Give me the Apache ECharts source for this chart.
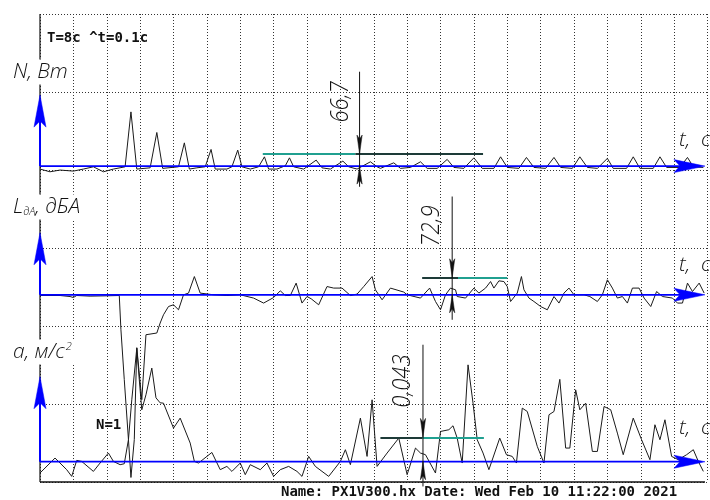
<!DOCTYPE html>
<html>
<head>
<meta charset="UTF-8">
<title>Осциллограмма</title>
<script src="https://cdn.jsdelivr.net/npm/echarts@6/dist/echarts.min.js"></script>
<style type="text/css">
body{margin:0;padding:0;background:#fff;}
#main{width:710px;height:500px;}
</style>
</head>
<body>
<div id="main"></div>
<script type="text/javascript">
// время t, с (T = 8 с), значения в единицах "деление/10" от своей нулевой линии
var sigN = [[0,-0.38],[0.12,-0.73],[0.24,-0.51],[0.40,-0.64],[0.52,-0.38],[0.64,-0.09],[0.76,-0.73],[0.88,-0.38],[1.02,-0.09],[1.09,6.95],
  [1.16,-0.38],[1.32,-0.22],[1.40,4.31],[1.47,-0.29],[1.66,-0.09],[1.73,2.98],[1.79,-0.38],[1.88,-0.22],[1.98,-0.09],[2.05,2.14],
  [2.10,-0.38],[2.24,-0.38],[2.30,-0.09],[2.37,2.05],[2.42,-0.09],[2.52,-0.38],[2.62,-0.09],[2.69,1.19],[2.74,-0.38],[2.84,-0.38],
  [2.94,0.04],[2.99,1.06],[3.04,-0.09],[3.16,-0.38],[3.31,0.77],[3.38,-0.22],[3.48,-0.38],[3.63,0.64],[3.70,-0.09],[3.80,-0.38],
  [3.96,0.55],[4.04,-0.09],[4.08,-0.29],[4.24,0.42],[4.32,-0.29],[4.44,-0.17],[4.56,0.55],[4.64,-0.29],[4.76,-0.29],[4.88,0.86],
  [4.96,-0.17],[5.08,-0.29],[5.20,1.06],[5.30,-0.29],[5.44,-0.29],[5.52,1.19],[5.60,-0.17],[5.74,-0.29],[5.83,1.11],[5.92,-0.17],
  [6.06,-0.29],[6.16,1.11],[6.24,-0.17],[6.38,-0.29],[6.47,1.19],[6.56,-0.17],[6.68,-0.29],[6.80,0.99],[6.87,-0.29],[7.03,-0.29],
  [7.11,1.19],[7.19,-0.29],[7.35,-0.29],[7.43,1.19],[7.51,-0.17],[7.67,-0.17],[7.76,1.11],[7.83,-0.09],[7.95,-0.17]];

var sigL = [[0,-0.09],[0.24,-0.09],[0.36,-0.22],[0.40,-0.35],[0.44,-0.09],[0.60,-0.17],[0.80,-0.13],[0.95,-0.09],[0.97,-4.48],[1.01,-10.88],
  [1.06,-18.56],[1.09,-23.42],[1.13,-18.56],[1.16,-6.78],[1.22,-13.44],[1.27,-5.12],[1.40,-4.90],[1.44,-3.62],[1.48,-2.56],[1.54,-1.50],
  [1.60,-1.28],[1.66,-1.92],[1.72,0],[1.78,0.22],[1.85,2.34],[1.92,0.22],[2.08,0],[2.24,-0.09],[2.40,0],[2.56,-0.42],
  [2.68,-1.06],[2.80,-0.35],[2.88,0.51],[2.94,-0.09],[3.00,-0.09],[3.07,1.50],[3.14,-1.06],[3.20,-0.22],[3.25,-0.51],[3.34,-1.28],
  [3.44,1.06],[3.52,0.86],[3.62,0.86],[3.72,-0.09],[3.80,0.09],[3.88,1.06],[3.98,2.34],[4.02,0.64],[4.10,-0.64],[4.20,0.86],
  [4.36,0.35],[4.40,0],[4.56,-0.42],[4.67,0.86],[4.74,-0.86],[4.80,-1.92],[4.86,0],[4.92,0.86],[4.98,0.64],[5.00,-0.22],
  [5.10,-0.42],[5.20,0.86],[5.26,0.22],[5.34,0.86],[5.40,1.70],[5.44,0.86],[5.50,1.79],[5.56,1.70],[5.60,1.06],[5.64,-0.86],
  [5.72,0.22],[5.77,2.34],[5.80,0.64],[5.86,-0.42],[5.92,-0.86],[6.00,-1.50],[6.08,-1.92],[6.16,-0.22],[6.22,-1.06],[6.28,0.22],
  [6.34,0.86],[6.40,0],[6.52,0],[6.59,-0.22],[6.68,-0.86],[6.74,0],[6.80,1.92],[6.86,0.86],[6.92,-0.42],[6.98,-0.22],
  [7.04,-1.06],[7.10,0.86],[7.18,0.86],[7.24,-0.42],[7.32,-1.50],[7.39,0.42],[7.46,-0.22],[7.58,-0.42],[7.64,-1.06],[7.70,-1.06],
  [7.76,1.50],[7.82,0.42],[7.90,1.50],[7.96,0.22]];

var sigA = [[0,-1.45],[0.18,0.47],[0.32,-1.02],[0.38,-1.88],[0.44,0.17],[0.50,0.04],[0.64,-1.24],[0.72,-0.17],[0.82,1.11],[0.88,0.04],
  [0.96,-0.38],[1.01,-0.26],[1.06,2.82],[1.10,7.94],[1.16,14.55],[1.19,10.5],[1.22,6.66],[1.27,8.58],[1.34,12.0],[1.39,8.19],
  [1.44,7.55],[1.48,7.51],[1.60,4.31],[1.68,5.59],[1.80,2.39],[1.85,0.04],[1.90,-0.17],[2.06,1.19],[2.16,-1.02],[2.24,-0.60],
  [2.30,-1.24],[2.40,-0.17],[2.46,-1.66],[2.52,-0.38],[2.64,-1.02],[2.72,-0.17],[2.80,-1.88],[2.88,-1.02],[2.98,-0.60],[3.08,-1.24],
  [3.14,-1.88],[3.22,0.68],[3.30,-0.60],[3.46,-1.88],[3.60,0.04],[3.66,1.54],[3.72,-0.38],[3.84,5.59],[3.92,0.68],[3.98,7.94],
  [4.04,-0.60],[4.16,1.11],[4.30,3.03],[4.40,-1.66],[4.50,1.75],[4.56,1.11],[4.62,0.90],[4.74,-1.45],[4.80,3.88],[4.90,4.10],
  [4.95,4.61],[5.00,3.03],[5.06,-0.17],[5.13,12.42],[5.19,7.51],[5.24,2.82],[5.31,1.11],[5.38,-1.02],[5.51,3.03],[5.59,0.90],
  [5.66,0.68],[5.71,-0.17],[5.78,6.87],[5.84,6.44],[5.96,1.96],[6.04,-0.17],[6.10,6.02],[6.16,6.44],[6.23,10.56],[6.30,1.75],
  [6.35,1.75],[6.42,9.22],[6.47,6.66],[6.54,7.51],[6.62,1.32],[6.68,1.32],[6.76,7.08],[6.84,6.66],[6.92,3.67],[6.99,0.90],
  [7.11,5.59],[7.21,2.82],[7.31,0.26],[7.37,4.74],[7.43,2.82],[7.49,5.38],[7.57,0.68],[7.65,0.26],[7.75,0.90],[7.83,1.54],
  [7.89,0.04],[7.95,-1.24]];

// средние уровни и подписи размеров
var meanLevel = [1.54, 2.18, 3.12];
var meanText = ['66,7', '72,9', '0,043'];
var meanFrom = [2.67, 4.58, 4.08];
var meanSplit = [3.78, 5.01, 4.58];
var meanTo = [5.31, 5.60, 5.32];
var markT = [3.83, 4.94, 4.59];

// нижние границы осей (делений/10), чтобы нули каналов легли на свои места
var axisMin = [-40.5, -24, -2.6];

var chart = echarts.init(document.getElementById('main'));

var traceStyle = {color: '#1a1a1a', width: 1};
function trace(data, k, leftTeal) {
  var teal = '#20a090', dark = '#1d3b38';
  return {
    type: 'line', data: data, yAxisIndex: k + 1, showSymbol: false, symbol: 'none',
    lineStyle: traceStyle, itemStyle: {color: '#1a1a1a'}, animation: false, z: 3,
    markLine: {
      silent: true, symbol: 'none', animation: false, label: {show: false},
      data: [
        [{coord: [meanFrom[k], meanLevel[k]], lineStyle: {color: leftTeal ? teal : dark, width: 2, type: 'solid'}},
         {coord: [meanSplit[k], meanLevel[k]]}],
        [{coord: [meanSplit[k], meanLevel[k]], lineStyle: {color: leftTeal ? dark : teal, width: 2, type: 'solid'}},
         {coord: [meanTo[k], meanLevel[k]]}]
      ]
    }
  };
}

var gridLine = {show: true, lineStyle: {color: '#333', width: 1, type: [1, 2]}};
var hiddenY = function (mn) {
  return {type: 'value', min: mn, max: mn + 60, show: false, splitLine: {show: false}};
};

chart.setOption({
  animation: false,
  grid: {left: 40, top: 14, width: 667.5, height: 468},
  xAxis: {type: 'value', min: 0, max: 8, interval: 0.4,
    axisLine: {show: false}, axisTick: {show: false}, axisLabel: {show: false}, splitLine: gridLine},
  yAxis: [
    {type: 'value', min: 0, max: 6, interval: 1,
      axisLine: {show: false}, axisTick: {show: false}, axisLabel: {show: false}, splitLine: gridLine},
    hiddenY(axisMin[0]), hiddenY(axisMin[1]), hiddenY(axisMin[2])
  ],
  series: [trace(sigN, 0, true), trace(sigL, 1, false), trace(sigA, 2, false)]
});

// оформление: рамка, синие оси со стрелками, размерные стрелки, надписи
var axisTip = [9.1, 7.95, 10.9];
var dimTop = [12.1, 12.6, 15.0];
var dimBot = [-2.65, -3.2, -3.17];
var blue = '#0000ff';
var els = [];
function seg(x1, y1, x2, y2, c, w) {
  els.push({type: 'line', z: 50, silent: true, shape: {x1: x1, y1: y1, x2: x2, y2: y2}, style: {stroke: c, lineWidth: w}});
}
function tri(pts, c) {
  els.push({type: 'polygon', z: 51, silent: true, shape: {points: pts}, style: {fill: c, stroke: c, lineWidth: 0.5}});
}
function label(x, y, opt) {
  var st = {text: opt.text, fill: opt.color || '#111', font: opt.font, align: opt.align || 'left', verticalAlign: 'middle'};
  if (opt.rich) st.rich = opt.rich;
  if (opt.bg) { st.backgroundColor = '#fff'; st.padding = [2, 3]; }
  els.push({type: 'text', z: 60, silent: true, x: x, y: y, rotation: opt.rotation || 0,
    scaleX: opt.sx || 1, scaleY: opt.sy || 1, style: st});
}

var xL = chart.convertToPixel({xAxisIndex: 0}, 0);
var xEnd = chart.convertToPixel({xAxisIndex: 0}, 7.97);
var yT = chart.convertToPixel({yAxisIndex: 0}, 6);
var yB = chart.convertToPixel({yAxisIndex: 0}, 0);
seg(xL, yT, xL, yB, '#111', 1.2);
seg(xL, yB, xEnd, yB, '#111', 1.5);

for (var k = 0; k < 3; k++) {
  var base = chart.convertToPixel({seriesIndex: k}, [0, 0]);
  var yb = base[1];
  var tip = chart.convertToPixel({seriesIndex: k}, [0, axisTip[k]])[1];
  // горизонтальная ось t
  seg(xL, yb, xEnd - 20, yb, blue, 1.8);
  tri([[xEnd, yb], [xEnd - 31, yb - 6.5], [xEnd - 25, yb], [xEnd - 31, yb + 6.5]], blue);
  // вертикальная ось канала
  seg(xL, yb, xL, tip + 22, blue, 2);
  tri([[xL, tip], [xL - 6, tip + 32], [xL, tip + 26], [xL + 6, tip + 32]], blue);
  // размерная стрелка к среднему уровню
  var xm = chart.convertToPixel({seriesIndex: k}, [markT[k], 0])[0];
  var yTop = chart.convertToPixel({seriesIndex: k}, [markT[k], dimTop[k]])[1];
  var yBot = chart.convertToPixel({seriesIndex: k}, [markT[k], dimBot[k]])[1];
  var ym = chart.convertToPixel({seriesIndex: k}, [markT[k], meanLevel[k]])[1];
  seg(xm, yTop, xm, yBot, '#111', 1);
  tri([[xm, ym], [xm - 2.6, ym - 19], [xm, ym - 15], [xm + 2.6, ym - 19]], '#111');
  tri([[xm, yb], [xm - 2.6, yb + 18], [xm, yb + 14], [xm + 2.6, yb + 18]], '#111');
}

var gost = '"Open Sans","Noto Sans",sans-serif';
var axFont = 'italic 300 21px ' + gost;
var numPos = [[341, 102], [432, 226], [403, 381]];
for (var i = 0; i < 3; i++) {
  label(numPos[i][0], numPos[i][1], {text: meanText[i], font: 'italic 300 26px ' + gost,
    align: 'center', rotation: Math.PI / 2, sx: 0.85});
}
label(10, 72, {text: 'N, Вт', font: axFont, bg: true});
label(10, 207, {text: '{a|L}{s|дА}{a|, дБА}', font: axFont, bg: true, rich: {
  a: {fontSize: 21, fontStyle: 'italic', fontWeight: 300, fontFamily: gost, fill: '#111'},
  s: {fontSize: 11, fontStyle: 'italic', fontWeight: 300, fontFamily: gost, fill: '#111', verticalAlign: 'bottom', padding: [8, 0, 0, 0]}
}});
label(10, 352, {text: '{a|a, м/с}{s|2}', font: axFont, bg: true, rich: {
  a: {fontSize: 21, fontStyle: 'italic', fontWeight: 300, fontFamily: gost, fill: '#111'},
  s: {fontSize: 11, fontStyle: 'italic', fontWeight: 300, fontFamily: gost, fill: '#111', verticalAlign: 'top', padding: [0, 0, 10, 1]}
}});
var tY = [140, 265, 428];
for (var j = 0; j < 3; j++) label(679, tY[j], {text: 't,  с', font: axFont});

var mono = '"DejaVu Sans Mono",monospace';
label(47, 38, {text: 'T=8с ^t=0.1с', font: 'bold 14px ' + mono});
label(96, 425, {text: 'N=1', font: 'bold 14px ' + mono});
label(281, 492, {text: 'Name: PX1V300.hx Date: Wed Feb 10 11:22:00 2021', font: 'bold 14px ' + mono});

chart.setOption({graphic: {elements: els}});
</script>
</body>
</html>
